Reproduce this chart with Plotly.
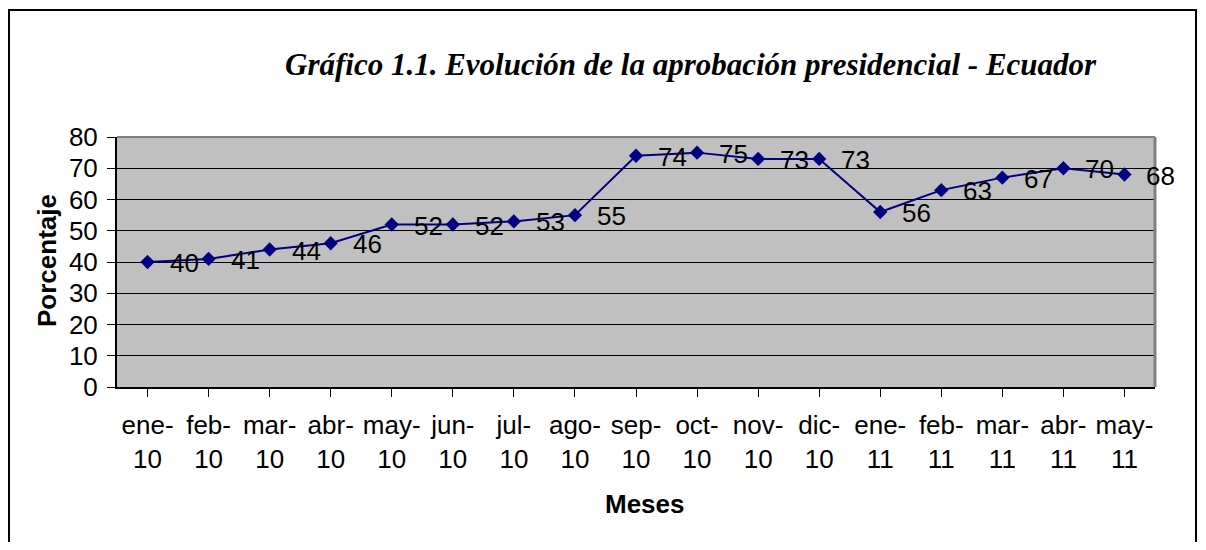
import plotly.graph_objects as go

months = ["ene-<br>10", "feb-<br>10", "mar-<br>10", "abr-<br>10", "may-<br>10", "jun-<br>10",
          "jul-<br>10", "ago-<br>10", "sep-<br>10", "oct-<br>10", "nov-<br>10", "dic-<br>10",
          "ene-<br>11", "feb-<br>11", "mar-<br>11", "abr-<br>11", "may-<br>11"]
aprobacion = [40, 41, 44, 46, 52, 52, 53, 55, 74, 75, 73, 73, 56, 63, 67, 70, 68]
y_ticks = [0, 10, 20, 30, 40, 50, 60, 70, 80]

OFF = 8  # page body margin
W, H = 1206 - 2 * OFF, 550 - 2 * OFF
L = 117 - OFF
T = 137 - OFF
R = W - (1155 - OFF)
B = H - (387 - OFF)
PW, PH = W - L - R, H - T - B

def px(x):
    return (x - OFF - L) / PW

def py(y):
    return (H - B - (y - OFF)) / PH

idx = list(range(len(months)))

fig = go.Figure()
fig.add_trace(go.Scatter(
    x=idx, y=aprobacion, mode="lines+markers",
    line=dict(color="#000080", width=2),
    marker=dict(symbol="diamond", size=11, color="#000080"),
    showlegend=False, hoverinfo="skip",
))

annotations = []
for i, v in zip(idx, aprobacion):
    annotations.append(dict(x=i, y=v, xref="x", yref="y", text=str(v), showarrow=False,
                            xanchor="left", yanchor="middle", xshift=20, yshift=-1,
                            font=dict(family="Liberation Sans, Arial", size=26, color="black")))

annotations.append(dict(x=px(691), y=py(65), xref="paper", yref="paper",
                        text="Gráfico 1.1. Evolución de la aprobación presidencial - Ecuador",
                        showarrow=False, xanchor="center", yanchor="middle",
                        font=dict(family="Liberation Serif", size=31, color="black",
                                  style="italic", weight="bold")))
annotations.append(dict(x=px(645), y=py(504), xref="paper", yref="paper", text="<b>Meses</b>",
                        showarrow=False, xanchor="center", yanchor="middle",
                        font=dict(family="Liberation Sans, Arial", size=26, color="black")))
annotations.append(dict(x=px(47), y=py(261), xref="paper", yref="paper", text="<b>Porcentaje</b>",
                        showarrow=False, xanchor="center", yanchor="middle", textangle=-90,
                        font=dict(family="Liberation Sans, Arial", size=26, color="black")))

shapes = [
    dict(type="rect", xref="paper", yref="paper", x0=px(OFF + 1), x1=px(OFF + W - 2),
         y0=py(10), y1=py(600),
         line=dict(color="black", width=2), fillcolor="rgba(0,0,0,0)", layer="below"),
    dict(type="line", xref="paper", yref="paper", x0=0, x1=1, y0=1, y1=1,
         line=dict(color="#808080", width=2)),
    dict(type="line", xref="paper", yref="paper", x0=1, x1=1, y0=0, y1=1,
         line=dict(color="#808080", width=3)),
]

fig.update_layout(
    width=W, height=H,
    margin=dict(l=L, r=R, t=T, b=B, pad=0),
    paper_bgcolor="white", plot_bgcolor="#C0C0C0",
    annotations=annotations, shapes=shapes,
    font=dict(family="Liberation Sans, Arial", size=26, color="black"),
)
fig.update_xaxes(
    range=[-0.5, len(months) - 0.5], tickmode="array", tickvals=idx, ticktext=months,
    tickson="boundaries", ticks="outside", ticklen=8, tickcolor="black",
    showline=True, linecolor="black", linewidth=2, showgrid=False, zeroline=False,
    tickfont=dict(size=26), ticklabelstandoff=6,
)
fig.update_yaxes(
    range=[0, 80], tickmode="array", tickvals=y_ticks, ticks="outside", ticklen=8,
    tickcolor="black", showline=True, linecolor="black", linewidth=2,
    showgrid=True, gridcolor="black", gridwidth=1, zeroline=False,
    tickfont=dict(size=26), ticklabelstandoff=4,
)

fig.write_html("out.html")
